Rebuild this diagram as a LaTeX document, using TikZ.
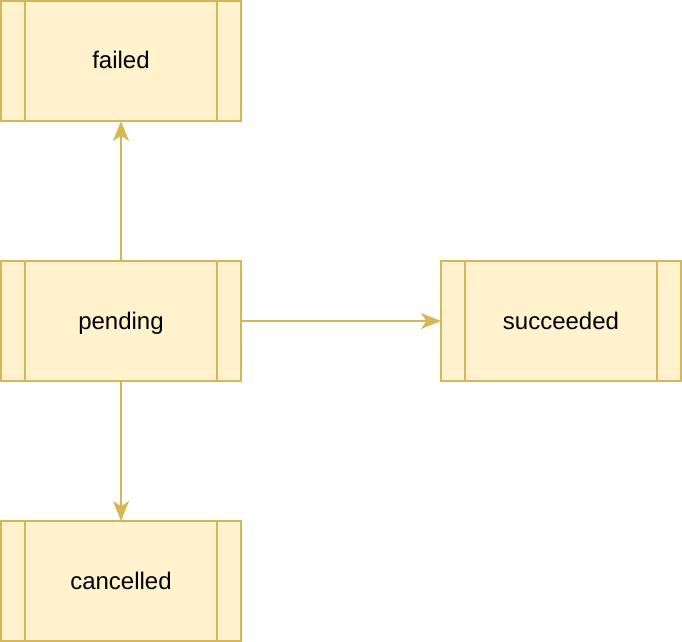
\documentclass[tikz,border=0pt]{standalone}
\usepackage{fontspec}
\setmainfont{Liberation Sans}
\usetikzlibrary{positioning,arrows.meta}

\definecolor{procfill}{RGB}{255,242,204}
\definecolor{procline}{RGB}{214,182,86}

\tikzset{every picture/.style={line width=1.2pt}}
\tikzset{
  process/.style={draw=procline, fill=procfill, minimum width=180pt, minimum height=90pt,
    inner sep=0pt, outer sep=0pt, font=\fontsize{18pt}{21pt}\selectfont,
    text height=14pt, text depth=2pt,
    path picture={
      \draw [procline] ([xshift=18pt]path picture bounding box.north west) -- ([xshift=18pt]path picture bounding box.south west);
      \draw [procline] ([xshift=-18pt]path picture bounding box.north east) -- ([xshift=-18pt]path picture bounding box.south east);
    }},
  flow/.style={draw=procline, -{Stealth[length=15pt, width=12pt, inset=4pt]}}
}

\begin{document}
\begin{tikzpicture}[x=0.75pt,y=0.75pt,yscale=-1,xscale=1]
%set diagram left start at 0, and has height of 642
\useasboundingbox (0,0) rectangle (682,642);

% States
\node [process] (pending) at (121,321) {pending};
\node [process, above=105pt of pending] (failed) {failed};
\node [process, right=150pt of pending] (succeeded) {succeeded};
\node [process, below=105pt of pending] (cancelled) {cancelled};

% Transitions
\draw [flow] (pending) -- (failed);
\draw [flow] (pending) -- (succeeded);
\draw [flow] (pending) -- (cancelled);
\end{tikzpicture}
\end{document}
